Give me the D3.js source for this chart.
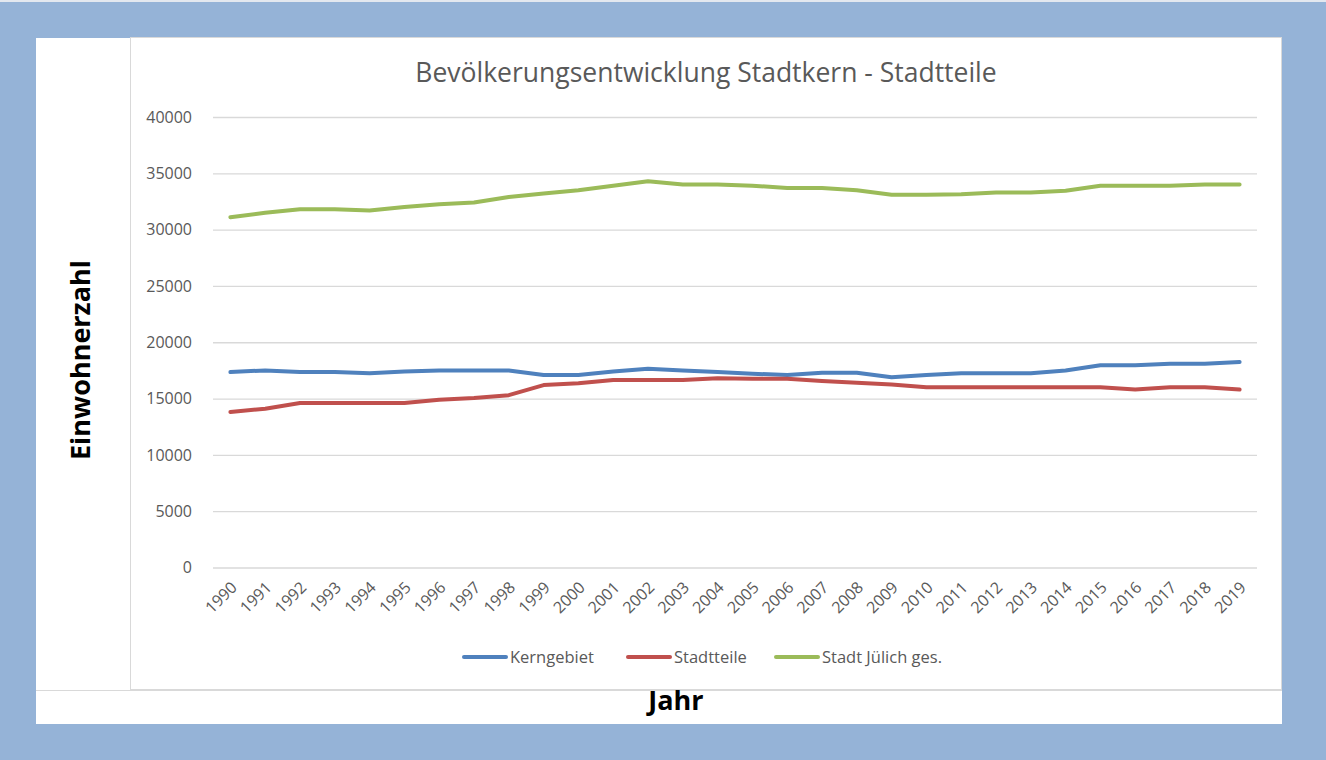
<!DOCTYPE html>
<html>
<head>
<meta charset="utf-8">
<script src="https://cdn.jsdelivr.net/npm/d3@7"></script>
<style>
  body { margin: 0; background: #95b3d7; }
  svg { display: block; }
  .tick text { font-family: "Open Sans", Lato, sans-serif; fill: #595959; }
</style>
</head>
<body>
<svg width="1326" height="760"></svg>
<script>
// data
let years = ["1990","1991","1992","1993","1994","1995","1996","1997","1998","1999",
             "2000","2001","2002","2003","2004","2005","2006","2007","2008","2009",
             "2010","2011","2012","2013","2014","2015","2016","2017","2018","2019"];
let kerngebiet = [17350,17500,17350,17350,17250,17400,17500,17500,17500,17100,
                  17100,17400,17650,17500,17350,17200,17100,17300,17300,16900,
                  17100,17250,17250,17250,17500,17950,17950,18100,18100,18250];
let stadtteile = [13800,14100,14600,14600,14600,14600,14900,15050,15300,16200,
                  16350,16650,16650,16650,16800,16750,16750,16550,16400,16250,
                  16000,16000,16000,16000,16000,16000,15800,16000,16000,15800];
let stadtGes = [31100,31500,31800,31800,31700,32000,32250,32400,32900,33200,
                33500,33900,34300,34000,34000,33900,33700,33700,33500,33100,
                33100,33150,33300,33300,33450,33900,33900,33900,34000,34000];
let yTicks = [0,5000,10000,15000,20000,25000,30000,35000,40000];
let seriesNames = ["Kerngebiet","Stadtteile","Stadt Jülich ges."];
let seriesColors = ["#4f81bd","#c0504d","#9bbb59"];

let svg = d3.select("svg");
let font = "'Open Sans', Lato, sans-serif";

// spreadsheet strip on top
svg.append("rect").attr("x", 0).attr("y", 0).attr("width", 1326).attr("height", 2)
  .style("fill", "#e3e8ef");

// white sheet + chart box
svg.append("rect").attr("x", 36).attr("y", 38).attr("width", 1246).attr("height", 686)
  .style("fill", "#fff");
svg.append("rect").attr("x", 130.5).attr("y", 37.5).attr("width", 1151).attr("height", 652)
  .style("fill", "#fff").style("stroke", "#d9d9d9");
svg.append("line").attr("x1", 36).attr("x2", 1282).attr("y1", 690.5).attr("y2", 690.5)
  .style("stroke", "#d9d9d9");

let plotLeft = 213, plotRight = 1257, plotTop = 117, plotBottom = 567.5;

let x = d3.scalePoint()
    .domain(years)
    .range([plotLeft, plotRight])
    .padding(0.5);
let y = d3.scaleLinear()
    .domain([0, 40000])
    .range([plotBottom, plotTop]);

// y axis with gridlines
let yAxis = svg.append("g")
    .attr("transform", "translate(" + plotLeft + ",0)")
    .call(d3.axisLeft(y)
      .tickValues(yTicks)
      .tickFormat(d3.format("d"))
      .tickSize(-(plotRight - plotLeft))
      .tickPadding(21));
yAxis.select(".domain").remove();
yAxis.selectAll(".tick line").style("stroke", "#d9d9d9").style("stroke-width", 1.3);
yAxis.selectAll(".tick text").style("font-size", "16px");

// x axis labels rotated
let xAxis = svg.append("g")
    .attr("transform", "translate(0," + plotBottom + ")")
    .call(d3.axisBottom(x).tickSize(0).tickPadding(0));
xAxis.select(".domain").remove();
xAxis.selectAll(".tick text")
    .style("font-size", "16px")
    .style("text-anchor", "end")
    .attr("y", 0)
    .attr("dy", "0.35em")
    .attr("transform", "translate(3,17) rotate(-45)");

// lines
let line = d3.line()
    .x(function(d, i) { return x(years[i]); })
    .y(function(d) { return y(d); });
[kerngebiet, stadtteile, stadtGes].forEach(function(s, i) {
  svg.append("path")
    .datum(s)
    .attr("d", line)
    .style("fill", "none")
    .style("stroke", seriesColors[i])
    .style("stroke-width", 4)
    .style("stroke-linejoin", "round")
    .style("stroke-linecap", "round");
});

// title
svg.append("text")
  .attr("x", 706).attr("y", 82)
  .style("text-anchor", "middle")
  .style("font-family", font)
  .style("font-size", "26.5px")
  .style("fill", "#595959")
  .text("Bevölkerungsentwicklung Stadtkern - Stadtteile");

// legend
let legendX = [464, 628, 776];
let legend = svg.append("g").attr("transform", "translate(0,657)");
seriesNames.forEach(function(n, i) {
  legend.append("line")
    .attr("x1", legendX[i]).attr("x2", legendX[i] + 42)
    .attr("y1", 0).attr("y2", 0)
    .style("stroke", seriesColors[i])
    .style("stroke-width", 4)
    .style("stroke-linecap", "round");
  legend.append("text")
    .attr("x", legendX[i] + 46).attr("y", 0).attr("dy", "0.35em")
    .style("font-family", font)
    .style("font-size", "16.5px")
    .style("fill", "#595959")
    .text(n);
});

// axis titles
svg.append("text")
  .attr("x", 676).attr("y", 710)
  .style("text-anchor", "middle")
  .style("font-family", font)
  .style("font-weight", "bold")
  .style("font-size", "27px")
  .text("Jahr");
svg.append("text")
  .attr("transform", "translate(90,360) rotate(-90)")
  .style("text-anchor", "middle")
  .style("font-family", font)
  .style("font-weight", "bold")
  .style("font-size", "27px")
  .text("Einwohnerzahl");
</script>
</body>
</html>
